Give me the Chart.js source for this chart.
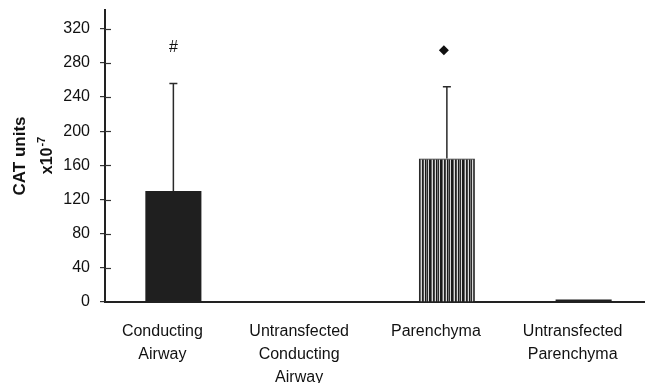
<!DOCTYPE html>
<html>
<head>
<meta charset="utf-8">
<script src="https://cdn.jsdelivr.net/npm/chart.js@4.4.1/dist/chart.umd.min.js"></script>
<style>
  html, body { margin: 0; padding: 0; background: #fff; overflow: hidden; }
  #wrap { position: absolute; left: 0; top: 0; width: 652px; height: 383px; }
</style>
</head>
<body>
<div id="wrap"><canvas id="chart" width="652" height="383"></canvas></div>
<script>
// Tissue groups along the x axis (multi-line labels)
const categories = [
  ["Conducting", "Airway"],
  ["Untransfected", "Conducting", "Airway"],
  ["Parenchyma"],
  ["Untransfected", "Parenchyma"]
];
// Mean CAT activity (units x10^-7) and upper error (SD) per group
const catMeans = [130, 0, 168, 3];
const catErrors = [126, 0, 84, 0];
// Significance symbols above groups and the level they sit at
const markerSymbols = ["#", "", "diamond", ""];
const markerLevels = [298, null, 295, null];
// Y axis ticks
const yTicks = [0, 40, 80, 120, 160, 200, 240, 280, 320];
const yMax = 342;

const ink = "#1f1f1f";

// Vertical hatching for the parenchyma bar
function stripePattern() {
  const c = document.createElement("canvas");
  c.width = 11; c.height = 4;
  const g = c.getContext("2d");
  g.fillStyle = "#d8d8d8"; g.fillRect(0, 0, 11, 4);
  const cols = [["#1a1a1a", 0, 2], ["#6a6a6a", 2, 1], ["#222", 4, 1], ["#4a4a4a", 5, 1], ["#1a1a1a", 7, 1], ["#7a7a7a", 8, 1], ["#2a2a2a", 9, 1]];
  cols.forEach(([col, x, w]) => { g.fillStyle = col; g.fillRect(x, 0, w, 4); });
  return g.createPattern(c, "repeat");
}
const hatch = stripePattern();

// Upper error whiskers with caps
const errorBars = {
  id: "errorBars",
  afterDatasetsDraw(chart) {
    const meta = chart.getDatasetMeta(0);
    const y = chart.scales.y;
    const ctx = chart.ctx;
    ctx.save();
    ctx.strokeStyle = "#2a2a2a";
    ctx.lineWidth = 1.5;
    meta.data.forEach((bar, i) => {
      if (!catErrors[i]) return;
      const x = bar.x;
      const top = y.getPixelForValue(catMeans[i] + catErrors[i]);
      ctx.beginPath();
      ctx.moveTo(x, bar.y);
      ctx.lineTo(x, top);
      ctx.moveTo(x - 4, top);
      ctx.lineTo(x + 4, top);
      ctx.stroke();
    });
    ctx.restore();
  }
};

// Significance symbols
const markers = {
  id: "markers",
  afterDatasetsDraw(chart) {
    const meta = chart.getDatasetMeta(0);
    const y = chart.scales.y;
    const ctx = chart.ctx;
    ctx.save();
    ctx.fillStyle = "#111";
    meta.data.forEach((bar, i) => {
      const sym = markerSymbols[i];
      if (!sym || markerLevels[i] == null) return;
      const py = y.getPixelForValue(markerLevels[i]);
      const px = bar.x;
      if (sym === "diamond") {
        ctx.beginPath();
        ctx.moveTo(px - 3, py - 5);
        ctx.lineTo(px + 2, py);
        ctx.lineTo(px - 3, py + 5);
        ctx.lineTo(px - 8, py);
        ctx.closePath();
        ctx.fill();
      } else {
        ctx.font = "16px 'Liberation Sans', Arial, sans-serif";
        ctx.textAlign = "center";
        ctx.textBaseline = "middle";
        ctx.fillText(sym, px, py);
      }
    });
    ctx.restore();
  }
};

// Y tick marks crossing into the plot, and the rotated axis title
const yDecor = {
  id: "yDecor",
  afterDraw(chart) {
    const y = chart.scales.y;
    const a = chart.chartArea;
    const ctx = chart.ctx;
    ctx.save();
    ctx.strokeStyle = "#333";
    ctx.lineWidth = 1.2;
    yTicks.forEach(v => {
      if (v === 0) return;
      const py = Math.round(y.getPixelForValue(v)) + 0.5;
      ctx.beginPath();
      ctx.moveTo(a.left, py);
      ctx.lineTo(a.left + 6, py);
      ctx.stroke();
    });
    // title
    const cy = (a.top + a.bottom) / 2;
    ctx.fillStyle = "#111";
    ctx.rotate(-Math.PI / 2);
    ctx.textBaseline = "middle";
    ctx.textAlign = "center";
    ctx.font = "bold 17px 'Liberation Sans', Arial, sans-serif";
    ctx.fillText("CAT units", -cy, 20);
    ctx.font = "bold 16px 'Liberation Sans', Arial, sans-serif";
    const base = "x10";
    const wb = ctx.measureText(base).width;
    ctx.font = "bold 11px 'Liberation Sans', Arial, sans-serif";
    const ws = ctx.measureText("-7").width;
    const start = -cy - (wb + ws) / 2;
    ctx.textAlign = "left";
    ctx.font = "bold 16px 'Liberation Sans', Arial, sans-serif";
    ctx.fillText(base, start, 48);
    ctx.font = "bold 11px 'Liberation Sans', Arial, sans-serif";
    ctx.fillText("-7", start + wb + 1, 42);
    ctx.restore();
  }
};

new Chart(document.getElementById("chart"), {
  type: "bar",
  data: {
    labels: categories,
    datasets: [{
      data: catMeans,
      backgroundColor: [ink, ink, hatch, ink],
      borderColor: [ink, ink, "#2a2a2a", ink],
      borderWidth: [0, 0, 1.2, 0],
      barPercentage: 0.41,
      categoryPercentage: 1
    }]
  },
  options: {
    responsive: false,
    animation: false,
    layout: { padding: { top: 10, left: 0, right: 0, bottom: 0 } },
    plugins: { legend: { display: false }, tooltip: { enabled: false } },
    scales: {
      x: {
        grid: { display: false },
        border: { display: true, color: "#222", width: 2 },
        ticks: {
          color: "#111",
          font: { family: "'Liberation Sans', Arial, sans-serif", size: 16, lineHeight: 1.45 },
          padding: 10,
          labelOffset: -11,
          maxRotation: 0,
          autoSkip: false
        },
        afterFit(scale) { scale.height = 81; scale.paddingLeft = 0; scale.paddingRight = 0; }
      },
      y: {
        min: 0,
        max: yMax,
        afterBuildTicks(scale) { scale.ticks = yTicks.map(v => ({ value: v })); },
        grid: { display: true, drawOnChartArea: false, drawTicks: true, tickLength: 5, color: "#333", lineWidth: 1.2 },
        border: { display: true, color: "#222", width: 2 },
        ticks: {
          color: "#111",
          font: { family: "'Liberation Sans', Arial, sans-serif", size: 16 },
          padding: 10
        },
        afterFit(scale) { scale.width = 105; scale.paddingTop = 0; scale.paddingBottom = 0; }
      }
    }
  },
  plugins: [errorBars, markers, yDecor]
});
</script>
</body>
</html>
